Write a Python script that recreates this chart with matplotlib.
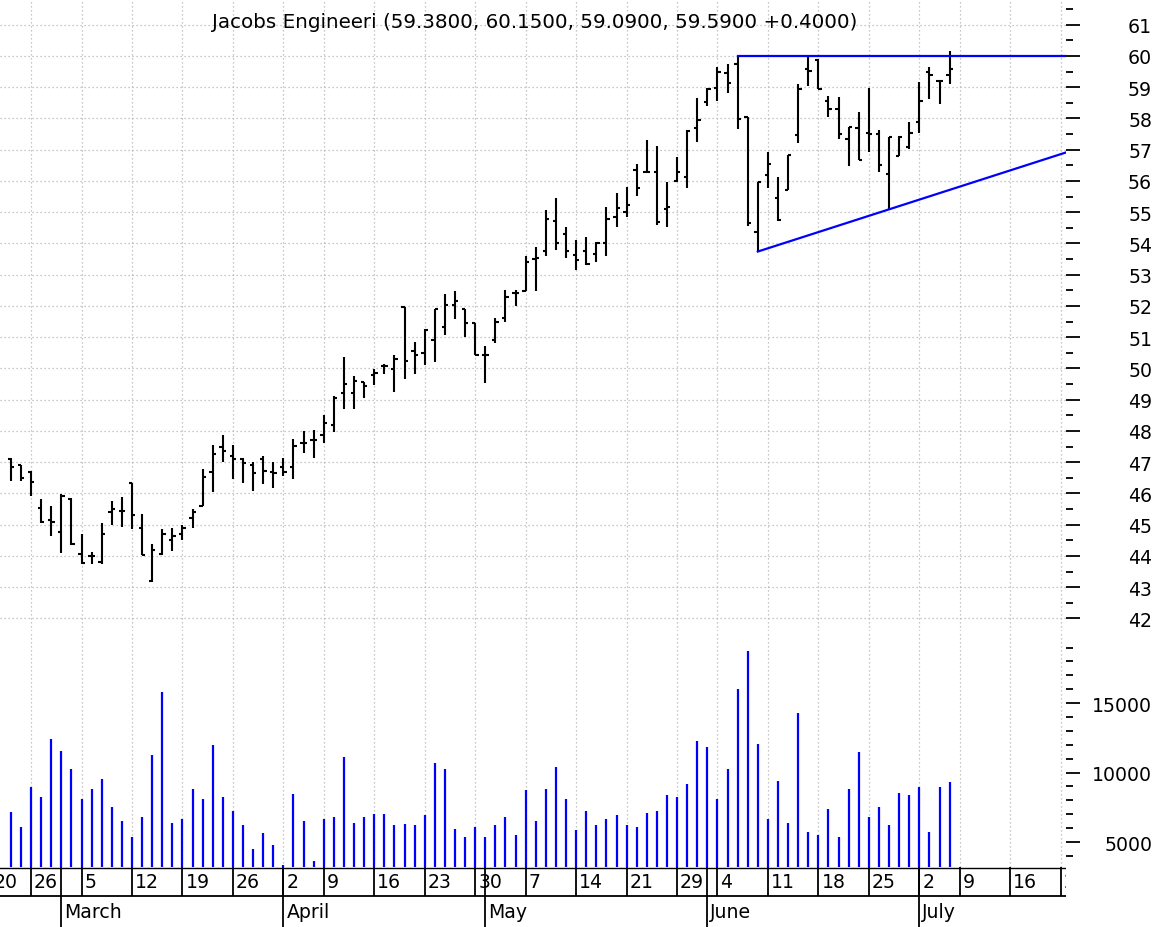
import numpy as np
import pandas as pd
import matplotlib
matplotlib.use('Agg')
import matplotlib.pyplot as plt

plt.rcParams['font.family'] = ['DejaVu Sans']

# trading calendar (2007), first bar drawn on the 3rd session
cal_start = '2007-02-20'
cal_end = '2007-07-31'
holidays = ['2007-04-06', '2007-05-28', '2007-07-04']
first_bar = 2

opens = [47.10, 46.90, 46.70, 45.53, 45.15, 44.76, 45.83, 44.07, 44.00, 43.80,
         45.40, 45.45, 46.35, 44.90, 43.20, 44.05, 44.50, 44.70, 45.20, 45.60,
         46.70, 47.48, 47.20, 47.10, 46.90, 47.09, 46.70, 46.84, 46.84, 47.62,
         47.70, 47.86, 48.20, 49.20, 49.20, 49.58, 49.80, 50.07, 49.99, 51.95,
         50.57, 50.50, 50.90, 51.32, 52.04, 51.91, 51.46, 50.43, 50.90, 51.60,
         52.40, 52.49, 53.51, 53.77, 54.72, 54.30, 53.64, 53.77, 53.66, 54.00,
         54.83, 55.00, 56.35, 56.28, 56.30, 55.10, 56.00, 56.14, 57.69, 58.54,
         58.96, 59.45, 59.74, 58.04, 54.37, 56.19, 55.45, 55.71, 57.48, 59.58,
         59.87, 58.55, 58.30, 57.34, 57.68, 57.53, 57.50, 56.22, 56.81, 57.07,
         57.87, 59.50, 59.20, 59.38]
highs = [47.12, 46.91, 46.73, 45.82, 45.59, 45.98, 45.85, 44.71, 44.13, 45.05,
         45.77, 45.88, 46.35, 45.35, 44.37, 44.87, 44.90, 45.00, 45.50, 46.78,
         47.56, 47.86, 47.54, 47.13, 47.00, 47.20, 47.00, 47.13, 47.75, 47.99,
         48.02, 48.50, 49.13, 50.38, 49.77, 49.58, 49.99, 50.15, 50.43, 51.97,
         50.84, 51.27, 51.91, 52.39, 52.47, 51.91, 51.46, 50.73, 51.60, 52.50,
         52.52, 53.59, 53.90, 55.07, 55.45, 54.54, 54.12, 54.19, 54.06, 55.15,
         55.60, 55.79, 56.53, 57.31, 57.13, 55.98, 56.77, 57.62, 58.65, 58.96,
         59.63, 59.74, 60.00, 58.04, 55.98, 56.93, 56.14, 56.83, 59.10, 60.00,
         59.89, 58.72, 58.70, 57.74, 58.21, 58.96, 57.64, 57.39, 57.45, 57.87,
         59.17, 59.63, 59.23, 60.15]
lows = [46.41, 46.41, 45.93, 45.06, 44.63, 44.10, 44.34, 43.75, 43.75, 43.75,
        45.00, 44.93, 44.87, 44.02, 43.17, 44.04, 44.15, 44.50, 44.90, 45.60,
        46.05, 47.00, 46.46, 46.35, 46.09, 46.30, 46.16, 46.55, 46.46, 47.30,
        47.13, 47.60, 47.97, 48.70, 48.70, 49.04, 49.47, 49.82, 49.24, 49.66,
        49.82, 50.11, 50.20, 51.08, 51.57, 51.00, 50.43, 49.54, 50.80, 51.50,
        52.00, 52.49, 52.49, 53.59, 53.80, 53.53, 53.16, 53.30, 53.40, 53.59,
        54.51, 54.86, 55.53, 56.24, 54.60, 54.52, 55.98, 55.77, 57.23, 58.39,
        58.57, 58.81, 57.65, 54.55, 53.74, 55.77, 54.71, 55.71, 57.22, 59.05,
        58.94, 58.03, 57.34, 56.49, 56.68, 56.91, 56.28, 55.09, 56.79, 57.02,
        57.53, 58.62, 58.46, 59.09]
closes = [46.85, 46.51, 46.38, 45.08, 45.10, 45.93, 44.39, 43.77, 44.00, 44.71,
          45.50, 45.45, 45.31, 44.04, 44.18, 44.71, 44.65, 44.90, 45.40, 46.52,
          47.25, 47.35, 47.10, 46.98, 46.66, 46.73, 46.66, 46.70, 47.52, 47.62,
          47.70, 48.24, 49.07, 49.50, 49.60, 49.43, 49.86, 50.07, 50.31, 50.25,
          50.43, 51.22, 51.91, 52.04, 52.15, 51.46, 50.43, 50.43, 51.50, 52.30,
          52.40, 53.40, 53.53, 54.78, 54.00, 53.77, 53.48, 53.34, 54.00, 54.78,
          55.13, 55.23, 55.77, 56.28, 54.70, 55.15, 56.30, 57.59, 57.94, 58.94,
          59.47, 59.13, 57.99, 54.66, 55.96, 56.53, 54.75, 56.83, 58.94, 59.52,
          58.94, 58.30, 57.50, 57.74, 56.68, 57.50, 56.51, 57.39, 57.39, 57.53,
          58.56, 59.40, 59.19, 59.59]
volumes = [7160, 6080, 8960, 8240, 12400, 11550, 10250, 8100, 8800, 9530,
           7520, 6510, 5360, 6800, 11260, 15800, 6370, 6650, 8800, 8100,
           12000, 8240, 7230, 6220, 4500, 5650, 4780, 3350, 8450, 6510,
           3630, 6650, 6800, 11120, 6370, 6800, 7000, 7000, 6220, 6300,
           6220, 6940, 10680, 10250, 5940, 5360, 6080, 5360, 6220, 6800,
           5500, 8740, 6510, 8810, 10400, 8100, 5860, 7230, 6220, 6650,
           6940, 6220, 6080, 7090, 7230, 8380, 8240, 9170, 12270, 11840,
           8100, 10250, 16000, 18740, 12050, 6650, 9390, 6370, 14280, 5720,
           5500, 7370, 5360, 8800, 11470, 6800, 7520, 6220, 8520, 8380,
           8960, 5720, 8960, 9320]

# trend lines: resistance on the Jun 6 high, support through the Jun 8 and Jun 27 lows
resist_day = '2007-06-06'
support_days = ['2007-06-08', '2007-06-27']

subtitle = 'Jacobs Engineeri (59.3800, 60.1500, 59.0900, 59.5900 +0.4000)'

days = pd.bdate_range(cal_start, cal_end, freq='C', holidays=holidays)
pos = {d.strftime('%Y-%m-%d'): i for i, d in enumerate(days)}
x = np.arange(first_bar, first_bar + len(opens))
opens, highs, lows, closes = map(np.array, (opens, highs, lows, closes))

week_idx = [i for i in range(len(days)) if i == 0 or days[i].week != days[i - 1].week]
month_idx = [i for i in range(1, len(days)) if days[i].month != days[i - 1].month]

W, H = 1166, 928
fig = plt.figure(figsize=(W / 100, H / 100), dpi=100)
right = 1066 / W
xlim = (0.926, 106.53)

ax = fig.add_axes([0, 1 - 632 / H, right, 632 / H])
axv = fig.add_axes([0, 1 - 868 / H, right, (868 - 634) / H])
axd = fig.add_axes([0, 0, right, 60 / H])

grid_kw = dict(color='#b4b4b4', linestyle=(0, (1, 2.2)), linewidth=0.9)
tick_fs = 13.6

for a in (ax, axv):
    for s in a.spines.values():
        s.set_visible(False)
    a.set_xticks(week_idx)
    a.set_xlim(*xlim)
    a.tick_params(axis='x', length=0, labelbottom=False)
    a.grid(axis='x', **grid_kw)
    a.yaxis.tick_right()
    a.tick_params(axis='y', which='major', direction='out', length=10, width=1.3,
                  labelsize=tick_fs, pad=52)
    a.tick_params(axis='y', which='minor', direction='out', length=5, width=1.3)
    a.set_axisbelow(True)

# price panel
ax.set_yticks(np.arange(42, 62))
ax.set_yticks(np.arange(41.5, 62, 1.0), minor=True)
ax.set_ylim(41.6, 61.82)
ax.grid(axis='y', **grid_kw)
for lbl in ax.get_yticklabels():
    lbl.set_ha('right')

ax.vlines(x, lows, highs, color='black', linewidth=1.5)
ax.hlines(opens, x - 0.33, x, color='black', linewidth=1.5)
ax.hlines(closes, x, x + 0.33, color='black', linewidth=1.5)

ri = pos[resist_day]
ax.plot([ri, xlim[1]], [highs[ri - first_bar]] * 2, color='blue', linewidth=1.6)
s0, s1 = pos[support_days[0]], pos[support_days[1]]
p0, p1 = lows[s0 - first_bar], lows[s1 - first_bar]
slope = (p1 - p0) / (s1 - s0)
ax.plot([s0, xlim[1]], [p0, p0 + slope * (xlim[1] - s0)], color='blue', linewidth=1.6)
ax.set_xlim(*xlim)

# volume panel
axv.set_yticks([5000, 10000, 15000])
axv.set_yticks(np.arange(4000, 20000, 1000), minor=True)
axv.set_ylim(3200, 20050)
for lbl in axv.get_yticklabels():
    lbl.set_ha('right')
axv.vlines(x, 0, volumes, color='blue', linewidth=1.6)
axv.set_xlim(*xlim)

# date band
axd.set_xlim(*xlim)
axd.set_ylim(0, 60)
axd.axis('off')
axd.axhline(59.5, color='black', linewidth=1.0)
axd.axhline(31, color='black', linewidth=1.3)
axd.vlines(week_idx, 31, 60, color='black', linewidth=1.3)
axd.vlines(month_idx, 0, 60, color='black', linewidth=1.3)
for i in week_idx:
    axd.text(i + 0.3, 45, str(days[i].day), fontsize=tick_fs, ha='left', va='center',
             clip_on=True)
for i in month_idx:
    axd.text(i + 0.3, 15, days[i].strftime('%B'), fontsize=tick_fs, ha='left',
             va='center', clip_on=True)

fig.text(535 / W, 1 - 23 / H, subtitle, fontsize=14.3, ha='center', va='center')

fig.savefig('out.png', dpi=100)
